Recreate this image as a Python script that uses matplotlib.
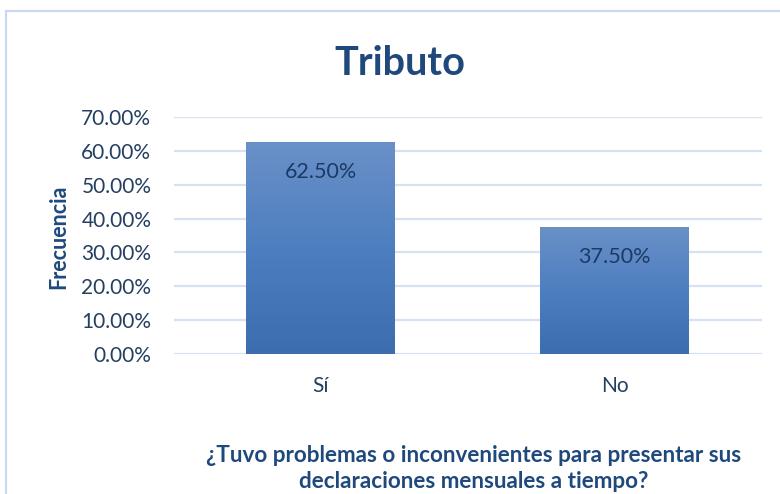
import matplotlib
matplotlib.use('Agg')
import matplotlib.pyplot as plt
import matplotlib.patches as patches
from matplotlib.colors import LinearSegmentedColormap
import numpy as np

# Data
categorias = ['Sí', 'No']
valores = [0.625, 0.375]
etiquetas = ['62.50%', '37.50%']
yticks = [0.0, 0.1, 0.2, 0.3, 0.4, 0.5, 0.6, 0.7]

plt.rcParams['font.family'] = ['Lato', 'DejaVu Sans']

fig = plt.figure(figsize=(7.8, 4.94), dpi=100)
ax = fig.add_axes([0.2225, 0.2834, 0.7539, 0.4798])

# light blue frame around the chart area
fig.patches.append(patches.Rectangle((6 / 780, -0.1), 1.2, 1 - 11 / 494 + 0.1,
                                     transform=fig.transFigure, fill=False,
                                     edgecolor='#C9DAF0', linewidth=1.6))

grad = LinearSegmentedColormap.from_list('g', ['#3C6DAF', '#4D7FC0', '#6A90C7'])
x = np.arange(len(categorias))
ancho = 0.505
barras = ax.bar(x, valores, width=ancho, color='#4F81BD', zorder=2)
for b in barras:
    x0, w, h = b.get_x(), b.get_width(), b.get_height()
    img = np.linspace(0, 1, 256).reshape(-1, 1)
    ax.imshow(img, cmap=grad, origin='lower', aspect='auto',
              extent=[x0, x0 + w, 0, h], zorder=3)

for xi, v, t in zip(x, valores, etiquetas):
    ax.text(xi, v - 0.088, t, ha='center', va='center', fontsize=15.5,
            color='#1D3A66', zorder=4)

ax.set_xlim(-0.5, 1.5)
ax.set_ylim(0, 0.7)
ax.set_yticks(yticks)
ax.set_yticklabels(['%.2f%%' % (v * 100) for v in yticks])
ax.set_xticks(x)
ax.set_xticklabels(categorias)
ax.tick_params(length=0, labelsize=15, colors='#243F60')
ax.tick_params(axis='y', pad=16)
ax.tick_params(axis='x', pad=16)
ax.yaxis.grid(True, color='#D6E2F2', linewidth=1.6, zorder=0)
ax.set_axisbelow(True)
for s in ax.spines.values():
    s.set_visible(False)

fig.text(0.513, 0.872, 'Tributo', ha='center', va='center', fontsize=28.5,
         fontweight='bold', color='#1F497D')
fig.text(0.075, 0.52, 'Frecuencia', rotation=90, ha='center', va='center',
         fontsize=15.5, fontweight='bold', color='#1F497D')
fig.text(0.607, 0.052, '¿Tuvo problemas o inconvenientes para presentar sus\n'
         'declaraciones mensuales a tiempo?', ha='center', va='center',
         fontsize=16.2, fontweight='bold', color='#1F497D', linespacing=1.3)

fig.savefig('out.png', dpi=100)
